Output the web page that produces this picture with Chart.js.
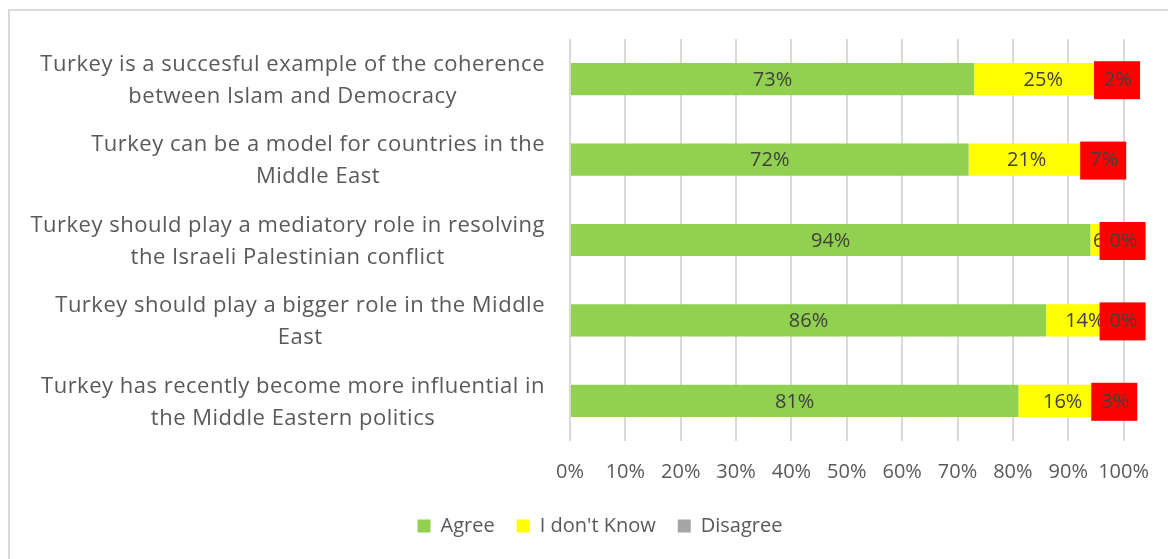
<!DOCTYPE html>
<html>
<head>
<meta charset="utf-8">
<script src="https://cdn.jsdelivr.net/npm/chart.js@4.4.1/dist/chart.umd.min.js"></script>
<style>
  body { margin: 0; background: #fff; }
  canvas { display: block; }
</style>
</head>
<body>
<canvas id="myChart" width="1168" height="559"></canvas>
<script>
// statements (each one split into the two lines shown on the axis)
const categories = [
  ['Turkey is a succesful example of the coherence', 'between Islam and Democracy'],
  ['Turkey can be a model for countries in the', 'Middle East'],
  ['Turkey should play a mediatory role in resolving', 'the Israeli Palestinian conflict'],
  ['Turkey should play a bigger role in the Middle', 'East'],
  ['Turkey has recently become more influential in', 'the Middle Eastern politics']
];
const agree = [73, 72, 94, 86, 81];
const dontKnow = [25, 21, 6, 14, 16];
const disagree = [2, 7, 0, 0, 3];
const xTicks = [0, 10, 20, 30, 40, 50, 60, 70, 80, 90, 100];

const FONT = 'Open Sans';
const TEXT = '#595959';

// white background + light frame like the excel chart area
const frame = {
  id: 'frame',
  beforeDraw(chart) {
    const c = chart.ctx;
    c.save();
    c.fillStyle = '#fff';
    c.fillRect(0, 0, chart.width, chart.height);
    c.strokeStyle = '#D9D9D9';
    c.lineWidth = 2;
    c.strokeRect(9, 10, chart.width + 20, chart.height + 20);
    c.restore();
  }
};

// category labels: block right aligned, lines centred inside the block
const catLabels = {
  id: 'catLabels',
  afterDraw(chart) {
    const c = chart.ctx;
    const ys = chart.scales.y;
    const right = 545;
    c.save();
    c.font = '22px ' + FONT;
    c.letterSpacing = '0.5px';
    c.fillStyle = TEXT;
    c.textAlign = 'center';
    c.textBaseline = 'middle';
    categories.forEach((lines, i) => {
      const yc = ys.getPixelForTick(i) + 1.5;
      const w = Math.max(...lines.map(l => c.measureText(l).width));
      const lh = 32;
      lines.forEach((l, k) => {
        c.fillText(l, right - w / 2, yc + (k - (lines.length - 1) / 2) * lh);
      });
    });
    c.restore();
  }
};

// value labels, disagree ones in a red box
const valueLabels = {
  id: 'valueLabels',
  afterDatasetsDraw(chart) {
    const c = chart.ctx;
    c.save();
    c.font = '20px ' + FONT;
    c.textAlign = 'center';
    c.textBaseline = 'middle';
    chart.data.datasets.forEach((ds, di) => {
      const meta = chart.getDatasetMeta(di);
      meta.data.forEach((bar, i) => {
        const cx = (bar.x + bar.base) / 2;
        const cy = bar.y;
        if (di === 2) {
          c.fillStyle = '#FF0000';
          c.fillRect(cx - 24, cy - 18, 46, 38);
        }
        c.fillStyle = '#404040';
        c.fillText(ds.data[i] + '%', cx, cy + 1);
      });
    });
    c.restore();
  }
};

const ctx = document.getElementById('myChart').getContext('2d');
new Chart(ctx, {
  type: 'bar',
  data: {
    labels: categories,
    datasets: [
      { label: 'Agree', data: agree, backgroundColor: '#92D050' },
      { label: "I don't Know", data: dontKnow, backgroundColor: '#FFFF00' },
      { label: 'Disagree', data: disagree, backgroundColor: '#A5A5A5' }
    ]
  },
  options: {
    indexAxis: 'y',
    responsive: false,
    animation: false,
    barPercentage: 0.4,
    categoryPercentage: 1,
    layout: { padding: { top: 39, left: 75, right: 43, bottom: 13 } },
    plugins: {
      legend: {
        position: 'bottom',
        labels: {
          boxWidth: 13,
          boxHeight: 13,
          padding: 22,
          color: TEXT,
          font: { family: FONT, size: 20 }
        }
      },
      tooltip: { enabled: false }
    },
    scales: {
      x: {
        stacked: true,
        min: 0,
        max: 100,
        afterBuildTicks: s => { s.ticks = xTicks.map(v => ({ value: v })); },
        afterFit: s => { s.height = 53; },
        grid: { color: '#D9D9D9', lineWidth: 2, drawTicks: false },
        border: { display: false },
        ticks: {
          padding: 19,
          maxRotation: 0,
          minRotation: 0,
          autoSkip: false,
          color: TEXT,
          font: { family: FONT, size: 20 },
          callback: v => v + '%'
        }
      },
      y: {
        stacked: true,
        afterFit: s => { s.width = 495; },
        grid: { display: false },
        border: { display: false },
        ticks: { display: false }
      }
    }
  },
  plugins: [frame, catLabels, valueLabels]
});
</script>
</body>
</html>
